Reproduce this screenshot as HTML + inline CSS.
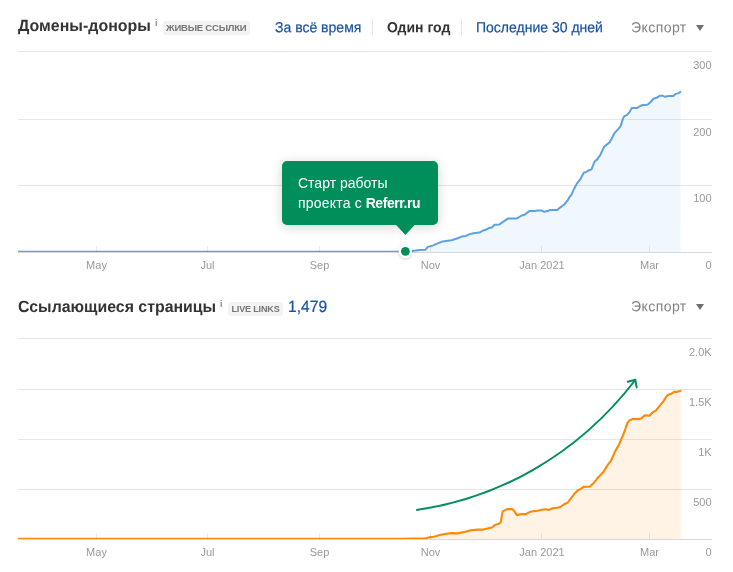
<!DOCTYPE html>
<html lang="ru">
<head>
<meta charset="utf-8">
<title>Домены-доноры</title>
<style>
html,body{margin:0;padding:0;background:#fff;}
body{width:733px;height:572px;position:relative;overflow:hidden;font-family:"Liberation Sans",sans-serif;color:#333;}
.abs{position:absolute;white-space:nowrap;}
.h{font-weight:bold;font-size:16.3px;line-height:18px;color:#333;transform:rotate(0.03deg) scaleX(0.979);transform-origin:0 0;}
.i{font-size:9px;font-weight:bold;line-height:10px;color:#8c8c8c;}
.badge{background:#f3f3f3;border-radius:3px;font-size:9.5px;font-weight:bold;line-height:14px;height:13.5px;color:#747474;padding:0;box-sizing:border-box;overflow:visible;}
.badge span{display:inline-block;transform-origin:0 50%;position:relative;}
.nav{font-size:14.6px;line-height:18px;transform:translateY(0.3px) rotate(0.03deg) scaleX(0.96);transform-origin:0 0;}
.blue{color:#1851a8;-webkit-text-stroke:0.2px #1851a8;}
.gray{color:#808080;letter-spacing:0.45px;}
.sep{position:absolute;width:1px;background:#e6e6e6;top:18.5px;height:16.5px;}
.tri{position:absolute;width:0;height:0;border-left:4.3px solid transparent;border-right:4.3px solid transparent;border-top:6.6px solid #6f6f6f;}
svg{position:absolute;left:0;top:0;}
svg text{font-family:"Liberation Sans",sans-serif;font-size:11px;fill:#999;}
.tip{position:absolute;left:282px;top:161.4px;width:156px;height:64px;background:#008e5a;border-radius:5px;box-shadow:0 2px 12px rgba(0,0,0,0.17);}
.tiptxt{position:absolute;left:298px;top:173px;color:#fff;font-size:14px;line-height:20px;white-space:nowrap;}
</style>
</head>
<body>

<!-- Header 1 -->
<div class="abs h" id="h1" style="left:18px;top:15.9px;">Домены-доноры</div>
<div class="abs i" id="i1" style="left:154.9px;top:18px;">i</div>
<div class="abs badge" id="b1" style="left:162.5px;top:21px;width:87.3px;"><span id="b1s" style="left:3.5px;letter-spacing:-0.2px;">ЖИВЫЕ ССЫЛКИ</span></div>
<div class="abs nav blue" id="n1" style="left:275px;top:18px;">За всё время</div>
<div class="sep" style="left:372px;"></div>
<div class="abs nav" id="n2" style="left:387px;top:18px;font-weight:bold;color:#333;">Один год</div>
<div class="sep" style="left:461px;"></div>
<div class="abs nav blue" id="n3" style="left:475.5px;top:18px;">Последние 30 дней</div>
<div class="abs nav gray" id="n4" style="left:631px;top:18px;">Экспорт</div>
<div class="tri" style="left:695.8px;top:25.1px;"></div>

<!-- Header 2 -->
<div class="abs h" id="h2" style="left:18px;top:296.9px;transform:rotate(0.03deg) scaleX(0.975);">Ссылающиеся страницы</div>
<div class="abs i" id="i2" style="left:220px;top:299px;">i</div>
<div class="abs badge" id="b2" style="left:227.8px;top:302px;width:55.6px;font-size:9px;"><span id="b2s" style="left:3.7px;letter-spacing:-0.15px;">LIVE LINKS</span></div>
<div class="abs blue" id="c2" style="left:287.8px;top:296.9px;font-size:16.3px;line-height:18px;transform:rotate(0.03deg) scaleX(0.96);transform-origin:0 0;">1,479</div>
<div class="abs nav gray" id="n5" style="left:631px;top:296.6px;">Экспорт</div>
<div class="tri" style="left:695.8px;top:303.8px;"></div>

<svg width="733" height="572" viewBox="0 0 733 572">
  <defs><clipPath id="c1"><rect x="18" y="40" width="700" height="212.1"/></clipPath><clipPath id="c2c"><rect x="18" y="330" width="700" height="209.1"/></clipPath></defs>
  <!-- Chart 1 grid -->
  <g stroke="#e6e6e6" stroke-width="1" shape-rendering="crispEdges">
    <line x1="18" y1="51.5" x2="712" y2="51.5"/>
    <line x1="18" y1="119.5" x2="712" y2="119.5"/>
    <line x1="18" y1="185.5" x2="712" y2="185.5"/>
  </g>
  <line x1="18" y1="252.5" x2="712" y2="252.5" stroke="#d8d8d8" stroke-width="1" shape-rendering="crispEdges"/>
  <g text-anchor="end">
    <text x="711.6" y="69">300</text>
    <text x="711.6" y="136">200</text>
    <text x="711.6" y="202">100</text>
    <text x="711.6" y="269">0</text>
  </g>
  <g text-anchor="middle">
    <text x="96.5" y="269">May</text>
    <text x="207.5" y="269">Jul</text>
    <text x="319.5" y="269">Sep</text>
    <text x="430.5" y="269">Nov</text>
    <text x="542" y="269">Jan 2021</text>
    <text x="649.5" y="269">Mar</text>
  </g>
  <path id="a1" fill="#5ca1e4" fill-opacity="0.09" stroke="none" d="M18,251.8 L405,251.8 L412.0,251.1 L419.6,250.0 L425.6,249.7 L427.8,246.9 L432.7,245.6 L437.1,243.7 L441.5,241.8 L445.8,240.9 L451.3,240.2 L457.8,238.2 L461.7,236.6 L465.5,236.0 L469.9,234.1 L473.4,233.2 L479.5,232.6 L483.0,230.5 L485.7,229.8 L489.1,227.9 L491.8,227.5 L494.6,224.8 L499.3,224.5 L502.7,222.1 L507.9,218.6 L516.4,218.6 L521.8,215.5 L524.6,214.8 L529.3,211.1 L534.8,211.1 L537.5,210.6 L541.6,210.6 L544.4,211.8 L547.8,211.1 L549.8,210.1 L557.3,210.1 L560.7,207.1 L564.2,204.5 L567.3,200.9 L569.4,197.2 L571.5,194.6 L573.6,189.9 L576.8,183.6 L579.9,179.9 L583.9,172.6 L585.7,172.3 L587.8,170.8 L591.5,169.4 L594.6,161.5 L597.2,159.4 L600.4,154.7 L604.2,146.6 L609.7,142.3 L614.7,132.8 L620.6,126.3 L622.8,119.1 L624.1,116.4 L627.1,114.9 L629.7,111.9 L631.7,107.9 L636.9,108.1 L640.2,106.0 L642.8,105.0 L647.4,104.7 L650.7,102.0 L653.3,98.8 L656.6,97.8 L659.9,95.7 L662.5,95.7 L665.1,96.8 L668.4,96.0 L673.4,96.0 L675.6,93.9 L678.9,93.1 L680.4,91.8 L680.6,92 L680.6,252 L18,252 Z"/>
  <path id="l1" clip-path="url(#c1)" fill="none" stroke="#5ca1e4" stroke-width="2" stroke-linejoin="round" stroke-linecap="round" d="M18,251.8 L405,251.8 L412.0,251.1 L419.6,250.0 L425.6,249.7 L427.8,246.9 L432.7,245.6 L437.1,243.7 L441.5,241.8 L445.8,240.9 L451.3,240.2 L457.8,238.2 L461.7,236.6 L465.5,236.0 L469.9,234.1 L473.4,233.2 L479.5,232.6 L483.0,230.5 L485.7,229.8 L489.1,227.9 L491.8,227.5 L494.6,224.8 L499.3,224.5 L502.7,222.1 L507.9,218.6 L516.4,218.6 L521.8,215.5 L524.6,214.8 L529.3,211.1 L534.8,211.1 L537.5,210.6 L541.6,210.6 L544.4,211.8 L547.8,211.1 L549.8,210.1 L557.3,210.1 L560.7,207.1 L564.2,204.5 L567.3,200.9 L569.4,197.2 L571.5,194.6 L573.6,189.9 L576.8,183.6 L579.9,179.9 L583.9,172.6 L585.7,172.3 L587.8,170.8 L591.5,169.4 L594.6,161.5 L597.2,159.4 L600.4,154.7 L604.2,146.6 L609.7,142.3 L614.7,132.8 L620.6,126.3 L622.8,119.1 L624.1,116.4 L627.1,114.9 L629.7,111.9 L631.7,107.9 L636.9,108.1 L640.2,106.0 L642.8,105.0 L647.4,104.7 L650.7,102.0 L653.3,98.8 L656.6,97.8 L659.9,95.7 L662.5,95.7 L665.1,96.8 L668.4,96.0 L673.4,96.0 L675.6,93.9 L678.9,93.1 L680.4,91.8"/>
  <g stroke="#000" stroke-opacity="0.08" stroke-width="1" shape-rendering="crispEdges">
    <line x1="96.5" y1="246" x2="96.5" y2="252"/>
    <line x1="207.5" y1="246" x2="207.5" y2="252"/>
    <line x1="319.5" y1="246" x2="319.5" y2="252"/>
    <line x1="430.5" y1="246" x2="430.5" y2="252"/>
    <line x1="541.5" y1="246" x2="541.5" y2="252"/>
    <line x1="649.5" y1="246" x2="649.5" y2="252"/>
  </g>

  <!-- Chart 2 grid -->
  <g stroke="#e6e6e6" stroke-width="1" shape-rendering="crispEdges">
    <line x1="18" y1="338.5" x2="712" y2="338.5"/>
    <line x1="18" y1="389.5" x2="712" y2="389.5"/>
    <line x1="18" y1="439.5" x2="712" y2="439.5"/>
    <line x1="18" y1="489.5" x2="712" y2="489.5"/>
  </g>
  <line x1="18" y1="539.5" x2="712" y2="539.5" stroke="#d8d8d8" stroke-width="1" shape-rendering="crispEdges"/>
  <g text-anchor="end">
    <text x="711.6" y="356">2.0K</text>
    <text x="711.6" y="406">1.5K</text>
    <text x="711.6" y="456">1K</text>
    <text x="711.6" y="506">500</text>
    <text x="711.6" y="556">0</text>
  </g>
  <g text-anchor="middle">
    <text x="96.5" y="556">May</text>
    <text x="207.5" y="556">Jul</text>
    <text x="319.5" y="556">Sep</text>
    <text x="430.5" y="556">Nov</text>
    <text x="542" y="556">Jan 2021</text>
    <text x="649.5" y="556">Mar</text>
  </g>
  <path id="a2" fill="#ff8a05" fill-opacity="0.10" stroke="none" d="M18,538.8 L400,538.8 L425.9,538.2 L429.3,537.3 L434.1,536.7 L439.6,535.0 L446.4,533.7 L451.8,533.1 L457.3,533.4 L464.1,532.0 L470.9,530.2 L477.8,529.6 L483.2,529.6 L487.3,528.6 L492.0,527.5 L494.8,525.0 L497.5,524.3 L500.6,522.6 L502.6,511.4 L507.1,509.1 L512.5,509.1 L514.3,511.1 L516.9,515.1 L521.4,514.1 L525.5,514.1 L529.6,512.1 L533.7,511.1 L537.7,510.7 L541.2,509.7 L545.9,509.3 L548.7,510.0 L552.1,508.4 L556.8,507.7 L560.3,507.0 L563.0,505.0 L567.8,502.5 L570.5,498.8 L574.6,493.6 L578.0,490.2 L580.7,488.9 L583.5,486.9 L589.8,486.5 L594.2,482.4 L598.1,477.4 L603.6,471.7 L607.6,465.1 L610.7,461.2 L615.4,450.9 L618.6,445.4 L621.3,439.1 L624.9,430.5 L627.2,423.4 L629.6,420.2 L632.8,419.1 L636.7,419.0 L640.0,418.9 L642.0,417.8 L644.5,415.6 L646.1,415.2 L649.4,415.8 L652.3,412.7 L656.0,410.3 L659.6,405.8 L663.7,400.9 L666.2,396.8 L667.8,395.0 L671.5,393.7 L674.0,391.7 L676.8,391.9 L680.5,390.8 L680.7,391 L680.7,539 L18,539 Z"/>
  <path id="l2" clip-path="url(#c2c)" fill="none" stroke="#fd8907" stroke-width="2.1" stroke-linejoin="round" stroke-linecap="round" d="M18,538.8 L400,538.8 L425.9,538.2 L429.3,537.3 L434.1,536.7 L439.6,535.0 L446.4,533.7 L451.8,533.1 L457.3,533.4 L464.1,532.0 L470.9,530.2 L477.8,529.6 L483.2,529.6 L487.3,528.6 L492.0,527.5 L494.8,525.0 L497.5,524.3 L500.6,522.6 L502.6,511.4 L507.1,509.1 L512.5,509.1 L514.3,511.1 L516.9,515.1 L521.4,514.1 L525.5,514.1 L529.6,512.1 L533.7,511.1 L537.7,510.7 L541.2,509.7 L545.9,509.3 L548.7,510.0 L552.1,508.4 L556.8,507.7 L560.3,507.0 L563.0,505.0 L567.8,502.5 L570.5,498.8 L574.6,493.6 L578.0,490.2 L580.7,488.9 L583.5,486.9 L589.8,486.5 L594.2,482.4 L598.1,477.4 L603.6,471.7 L607.6,465.1 L610.7,461.2 L615.4,450.9 L618.6,445.4 L621.3,439.1 L624.9,430.5 L627.2,423.4 L629.6,420.2 L632.8,419.1 L636.7,419.0 L640.0,418.9 L642.0,417.8 L644.5,415.6 L646.1,415.2 L649.4,415.8 L652.3,412.7 L656.0,410.3 L659.6,405.8 L663.7,400.9 L666.2,396.8 L667.8,395.0 L671.5,393.7 L674.0,391.7 L676.8,391.9 L680.5,390.8"/>
  <g stroke="#000" stroke-opacity="0.08" stroke-width="1" shape-rendering="crispEdges">
    <line x1="96.5" y1="533" x2="96.5" y2="539"/>
    <line x1="207.5" y1="533" x2="207.5" y2="539"/>
    <line x1="319.5" y1="533" x2="319.5" y2="539"/>
    <line x1="430.5" y1="533" x2="430.5" y2="539"/>
    <line x1="541.5" y1="533" x2="541.5" y2="539"/>
    <line x1="649.5" y1="533" x2="649.5" y2="539"/>
  </g>

  <!-- Green arrow -->
  <path id="g1" fill="none" stroke="#008e5a" stroke-width="2" stroke-linecap="butt" stroke-linejoin="round" d="M416.2,510 C496.1,498.8 576.4,456.7 635.3,380"/>
  <path fill="none" stroke="#008e5a" stroke-width="2" stroke-linecap="round" stroke-linejoin="round" d="M627.8,381.8 L635.3,379.8 L636.7,387.4"/>
</svg>

<!-- Tooltip -->
<div class="tip" id="tip"></div>
<svg width="733" height="572" viewBox="0 0 733 572">
  <defs><filter id="ds" x="-50%" y="-50%" width="200%" height="200%"><feDropShadow dx="0" dy="1" stdDeviation="1.5" flood-color="#000" flood-opacity="0.2"/></filter></defs>
  <path d="M395.7,224.5 L415,224.5 L405.4,235 Z" fill="#008e5a"/>
  <circle cx="405.4" cy="251.3" r="6.6" fill="#fff" filter="url(#ds)"/><circle cx="405.4" cy="251.3" r="4.4" fill="#008e5a"/>
</svg>
<div class="tiptxt" id="tt">Старт работы<br><span style="letter-spacing:0.2px;">проекта с </span><b style="letter-spacing:-0.42px;margin-left:-0.4px;">Referr.ru</b></div>

</body>
</html>
